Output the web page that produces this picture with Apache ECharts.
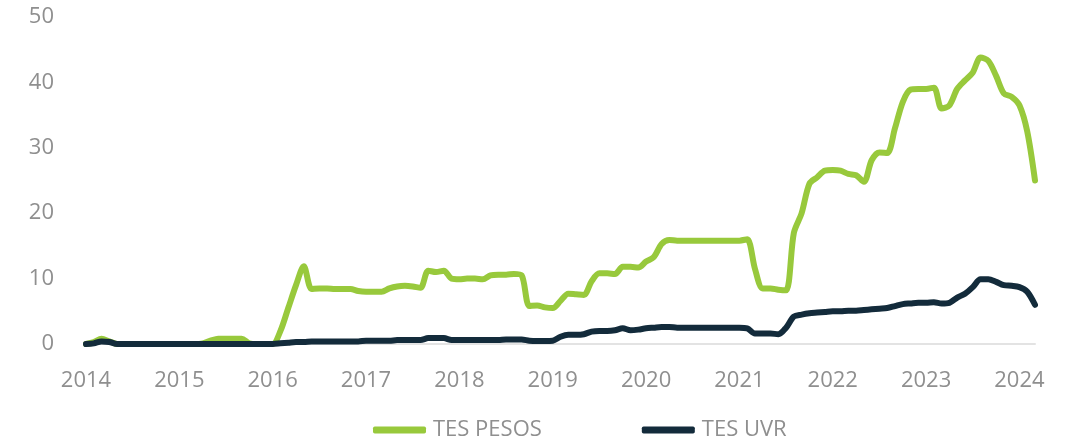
<!DOCTYPE html>
<html>
<head>
<meta charset="utf-8">
<script src="https://cdn.jsdelivr.net/npm/echarts@6/dist/echarts.min.js"></script>
<style>
  html, body { margin: 0; padding: 0; background: #fff; }
  #chart { width: 1076px; height: 440px; }
</style>
</head>
<body>
<div id="chart"></div>
<script>
// años del eje x (datos mensuales ene-2014 a mar-2024)
var years = ['2014', '2015', '2016', '2017', '2018', '2019', '2020', '2021', '2022', '2023', '2024'];
var lastMonth2024 = 3;

// TES PESOS, mensual
var tesPesos = [
  0, 0.3, 0.8, 0.4, 0, 0, 0, 0, 0, 0, 0, 0,                     // 2014
  0, 0, 0, 0.1, 0.5, 0.8, 0.8, 0.8, 0.8, 0.1, 0, 0,             // 2015
  0, 2.0, 5.5, 9.0, 11.9, 8.4, 8.5, 8.5, 8.4, 8.4, 8.4, 8.1,    // 2016
  8.0, 8.0, 8.0, 8.5, 8.8, 8.9, 8.8, 8.6, 11.2, 11.0, 11.2, 10.0, // 2017
  9.9, 10.0, 10.0, 9.9, 10.5, 10.6, 10.6, 10.7, 10.5, 5.8, 5.9, 5.6, // 2018
  5.5, 6.6, 7.7, 7.6, 7.5, 9.6, 10.8, 10.8, 10.7, 11.8, 11.8, 11.7, // 2019
  12.6, 13.3, 15.3, 15.9, 15.8, 15.8, 15.8, 15.8, 15.8, 15.8, 15.8, 15.8, // 2020
  15.8, 16.0, 11.5, 8.5, 8.5, 8.3, 8.2, 17.0, 20.0, 24.5, 25.5, 26.5, // 2021
  26.6, 26.5, 26.0, 25.8, 24.8, 28.1, 29.3, 29.2, 33.0, 37.0, 38.9, 39.0, // 2022
  39.0, 39.2, 36.0, 36.5, 39.0, 40.3, 41.5, 43.8, 43.3, 41.0, 38.3, 37.8, // 2023
  36.5, 32.5, 25.0                                                 // 2024
];

// TES UVR, mensual
var tesUvr = [
  0, 0.1, 0.4, 0.3, 0, 0, 0, 0, 0, 0, 0, 0,                     // 2014
  0, 0, 0, 0, 0, 0, 0, 0, 0, 0, 0, 0,                           // 2015
  0, 0.1, 0.2, 0.3, 0.3, 0.4, 0.4, 0.4, 0.4, 0.4, 0.4, 0.4,     // 2016
  0.5, 0.5, 0.5, 0.5, 0.6, 0.6, 0.6, 0.6, 0.9, 0.9, 0.9, 0.6,   // 2017
  0.6, 0.6, 0.6, 0.6, 0.6, 0.6, 0.7, 0.7, 0.7, 0.5, 0.45, 0.45, // 2018
  0.5, 1.1, 1.4, 1.4, 1.5, 1.9, 2.0, 2.0, 2.1, 2.4, 2.1, 2.2,   // 2019
  2.4, 2.5, 2.6, 2.6, 2.5, 2.5, 2.5, 2.5, 2.5, 2.5, 2.5, 2.5,   // 2020
  2.5, 2.4, 1.6, 1.6, 1.6, 1.5, 2.5, 4.2, 4.5, 4.7, 4.8, 4.9,   // 2021
  5.0, 5.0, 5.1, 5.1, 5.2, 5.3, 5.4, 5.5, 5.8, 6.1, 6.2, 6.3,   // 2022
  6.3, 6.4, 6.2, 6.3, 7.1, 7.7, 8.7, 9.9, 9.9, 9.5, 9.0, 8.9,   // 2023
  8.7, 8.0, 6.0                                                  // 2024
];

var months = [];
years.forEach(function (y, k) {
  var n = (k === years.length - 1) ? lastMonth2024 : 12;
  for (var m = 1; m <= n; m++) {
    months.push(y + '-' + (m < 10 ? '0' + m : m));
  }
});

var fontFamily = '"Open Sans", sans-serif';
var greyText = '#8f8f8f';

var chart = echarts.init(document.getElementById('chart'), null, { renderer: 'canvas' });

chart.setOption({
  animation: false,
  backgroundColor: '#ffffff',
  grid: { left: 86, right: 41, top: 17, bottom: 96 },
  legend: {
    left: 368,
    top: 414,
    itemWidth: 53,
    itemHeight: 7,
    itemGap: 100,
    icon: 'roundRect',
    textStyle: { color: greyText, fontSize: 22, fontFamily: fontFamily, padding: [0, 0, 0, 2] },
    data: ['TES PESOS', 'TES UVR']
  },
  xAxis: {
    type: 'category',
    data: months,
    boundaryGap: false,
    axisLine: { show: true, lineStyle: { color: '#e3e3e3', width: 2 } },
    axisTick: { show: false },
    splitLine: { show: false },
    axisLabel: {
      color: greyText,
      fontSize: 22,
      fontFamily: fontFamily,
      margin: 26,
      interval: function (index, value) { return value.slice(5) === '01'; },
      formatter: function (value) { return value.slice(0, 4); }
    }
  },
  yAxis: {
    type: 'value',
    min: 0,
    max: 50,
    interval: 10,
    axisLine: { show: false },
    axisTick: { show: false },
    splitLine: { show: false },
    axisLabel: { color: greyText, fontSize: 22, fontFamily: fontFamily, margin: 32 }
  },
  series: [
    {
      name: 'TES PESOS',
      type: 'line',
      data: tesPesos,
      smooth: 0.3,
      showSymbol: false,
      color: '#98c93c',
      lineStyle: { width: 6, color: '#98c93c', cap: 'round', join: 'round' }
    },
    {
      name: 'TES UVR',
      type: 'line',
      data: tesUvr,
      smooth: 0.3,
      showSymbol: false,
      color: '#132b3b',
      lineStyle: { width: 6, color: '#132b3b', cap: 'round', join: 'round' }
    }
  ]
});
</script>
</body>
</html>
